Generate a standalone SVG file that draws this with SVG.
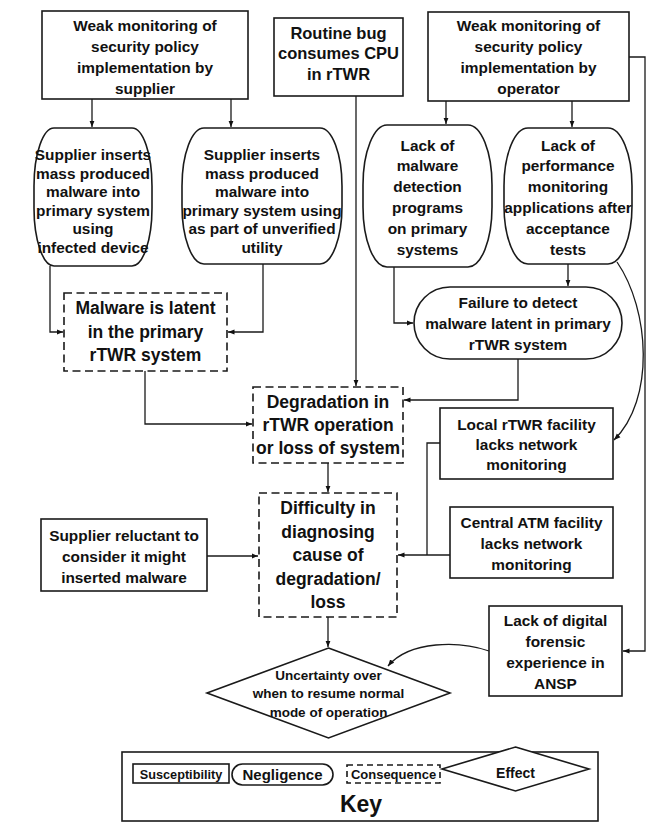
<svg xmlns="http://www.w3.org/2000/svg" width="654" height="823" viewBox="0 0 654 823">
<defs>
<marker id="ah" viewBox="0 0 10 10" refX="10" refY="5" markerWidth="6.5" markerHeight="6.5" orient="auto" markerUnits="userSpaceOnUse"><path d="M0,1 L10,5 L0,9 z" fill="#111"/></marker>
<style>
.n{fill:#fff;stroke:#1a1a1a;stroke-width:1.6}
.d{fill:#fff;stroke:#1a1a1a;stroke-width:1.6;stroke-dasharray:8 4.5}
.c{fill:none;stroke:#1a1a1a;stroke-width:1.3}
text{font-family:"Liberation Sans",Arial,sans-serif;font-weight:bold;fill:#111;text-anchor:middle}
.t{font-size:15.4px}
.tb{font-size:17.5px}
.tr{font-size:16.5px}
.te{font-size:13.5px}
</style>
</defs>
<rect width="654" height="823" fill="#fff"/>

<g id="connectors">
<path class="c" d="M92,99 V127" marker-end="url(#ah)"/>
<path class="c" d="M231,99 V127" marker-end="url(#ah)"/>
<path class="c" d="M446,101 V124" marker-end="url(#ah)"/>
<path class="c" d="M572,101 V127" marker-end="url(#ah)"/>
<path class="c" d="M356,96 V386" marker-end="url(#ah)"/>
<path class="c" d="M50,266 V332 H63" marker-end="url(#ah)"/>
<path class="c" d="M263,264 V332 H228" marker-end="url(#ah)"/>
<path class="c" d="M145,371 V424 H252" marker-end="url(#ah)"/>
<path class="c" d="M394,267 V323 H413" marker-end="url(#ah)"/>
<path class="c" d="M568,264 V286" marker-end="url(#ah)"/>
<path class="c" d="M518,359 V400 H404" marker-end="url(#ah)"/>
<path class="c" d="M617,262 C650,310 655,400 614,440" marker-end="url(#ah)"/>
<path class="c" d="M328,463 V492" marker-end="url(#ah)"/>
<path class="c" d="M440,443 H427 V555"/>
<path class="c" d="M450,555 H398" marker-end="url(#ah)"/>
<path class="c" d="M207,556 H258" marker-end="url(#ah)"/>
<path class="c" d="M328,617 V647" marker-end="url(#ah)"/>
<path class="c" d="M629,57 H645 V651 H623" marker-end="url(#ah)"/>
<path class="c" d="M489,651 C460,641 410,640 388,666" marker-end="url(#ah)"/>
</g>

<g id="weak-supplier">
<rect class="n" x="42" y="11" width="206" height="88"/>
<text class="t" x="145" y="31">Weak monitoring of</text>
<text class="t" x="145" y="52">security policy</text>
<text class="t" x="145" y="73">implementation by</text>
<text class="t" x="145" y="94">supplier</text>
</g>

<g id="routine-bug">
<rect class="n" x="274" y="18" width="129" height="78"/>
<text class="tr" x="338.5" y="39">Routine bug</text>
<text class="tr" x="338.5" y="59">consumes CPU</text>
<text class="tr" x="338.5" y="80">in rTWR</text>
</g>

<g id="weak-operator">
<rect class="n" x="428" y="12" width="201" height="89"/>
<text class="t" x="528.5" y="31">Weak monitoring of</text>
<text class="t" x="528.5" y="52">security policy</text>
<text class="t" x="528.5" y="73">implementation by</text>
<text class="t" x="528.5" y="94">operator</text>
</g>

<g id="supplier-device">
<rect class="n" x="34" y="128" width="118" height="138" rx="20" ry="58"/>
<text class="t" x="93" y="160">Supplier inserts</text>
<text class="t" x="93" y="178.6">mass produced</text>
<text class="t" x="93" y="197.2">malware into</text>
<text class="t" x="93" y="215.8">primary system</text>
<text class="t" x="93" y="234.4">using</text>
<text class="t" x="93" y="253">infected device</text>
</g>

<g id="supplier-utility">
<rect class="n" x="182" y="128" width="160" height="136" rx="22" ry="58"/>
<text class="t" x="262" y="160">Supplier inserts</text>
<text class="t" x="262" y="178.6">mass produced</text>
<text class="t" x="262" y="197.2">malware into</text>
<text class="t" x="262" y="215.8">primary system using</text>
<text class="t" x="262" y="234.4">as part of unverified</text>
<text class="t" x="262" y="253">utility</text>
</g>

<g id="lack-malware-detection">
<rect class="n" x="363" y="125" width="129" height="142" rx="24" ry="60"/>
<text class="t" x="427.5" y="150.5">Lack of</text>
<text class="t" x="427.5" y="171.3">malware</text>
<text class="t" x="427.5" y="192.1">detection</text>
<text class="t" x="427.5" y="212.9">programs</text>
<text class="t" x="427.5" y="233.7">on primary</text>
<text class="t" x="427.5" y="254.5">systems</text>
</g>

<g id="lack-performance">
<rect class="n" x="504" y="128" width="128" height="136" rx="24" ry="58"/>
<text class="t" x="568" y="150.5">Lack of</text>
<text class="t" x="568" y="171.3">performance</text>
<text class="t" x="568" y="192.1">monitoring</text>
<text class="t" x="568" y="212.9">applications after</text>
<text class="t" x="568" y="233.7">acceptance</text>
<text class="t" x="568" y="254.5">tests</text>
</g>

<g id="malware-latent">
<rect class="d" x="64" y="293" width="163" height="78"/>
<text class="tb" x="145.5" y="314">Malware is latent</text>
<text class="tb" x="145.5" y="338">in the primary</text>
<text class="tb" x="145.5" y="361">rTWR system</text>
</g>

<g id="failure-detect">
<rect class="n" x="414" y="287" width="208" height="72" rx="36" ry="36"/>
<text class="t" x="518" y="307.5">Failure to detect</text>
<text class="t" x="518" y="328.5">malware latent in primary</text>
<text class="t" x="518" y="349.5">rTWR system</text>
</g>

<g id="degradation">
<rect class="d" x="253" y="387" width="150" height="76"/>
<text class="tb" x="328" y="408">Degradation in</text>
<text class="tb" x="328" y="431">rTWR operation</text>
<text class="tb" x="328" y="454">or loss of system</text>
</g>

<g id="local-rtwr">
<rect class="n" x="440" y="408" width="173" height="71"/>
<text class="t" x="526.5" y="429.5">Local rTWR facility</text>
<text class="t" x="526.5" y="449.5">lacks network</text>
<text class="t" x="526.5" y="469.5">monitoring</text>
</g>

<g id="difficulty">
<rect class="d" x="259" y="493" width="138" height="124"/>
<text class="tb" x="328" y="514">Difficulty in</text>
<text class="tb" x="328" y="537.5">diagnosing</text>
<text class="tb" x="328" y="561">cause of</text>
<text class="tb" x="328" y="584.5">degradation/</text>
<text class="tb" x="328" y="608">loss</text>
</g>

<g id="supplier-reluctant">
<rect class="n" x="41" y="519" width="166" height="72"/>
<text class="t" x="124" y="540.5">Supplier reluctant to</text>
<text class="t" x="124" y="561.5">consider it might</text>
<text class="t" x="124" y="582.5">inserted malware</text>
</g>

<g id="central-atm">
<rect class="n" x="450" y="507" width="163" height="71"/>
<text class="t" x="531.5" y="527.5">Central ATM facility</text>
<text class="t" x="531.5" y="548.5">lacks network</text>
<text class="t" x="531.5" y="569.5">monitoring</text>
</g>

<g id="lack-forensic">
<rect class="n" x="489" y="606" width="133" height="90"/>
<text class="t" x="555.5" y="625.5">Lack of digital</text>
<text class="t" x="555.5" y="646.5">forensic</text>
<text class="t" x="555.5" y="667.5">experience in</text>
<text class="t" x="555.5" y="688.5">ANSP</text>
</g>

<g id="uncertainty">
<polygon class="n" points="328.5,648 450,693 328.5,738 207,693"/>
<text class="te" x="328.5" y="680">Uncertainty over</text>
<text class="te" x="328.5" y="698">when to resume normal</text>
<text class="te" x="328.5" y="717">mode of operation</text>
</g>

<g id="key">
<rect class="n" x="122" y="752" width="476" height="69"/>
<rect class="n" x="133" y="764" width="96" height="19"/>
<text x="181" y="778.5" style="font-size:12.7px">Susceptibility</text>
<rect class="n" x="232" y="764" width="101" height="21" rx="10.5" ry="10.5"/>
<text x="282.5" y="780" style="font-size:15px">Negligence</text>
<rect class="d" x="347" y="765" width="93" height="18" style="stroke-dasharray:6 4"/>
<text x="393.5" y="779" style="font-size:13px">Consequence</text>
<polygon class="n" points="515.5,747 589,769 515.5,791 442,769"/>
<text x="515.5" y="778" style="font-size:14px">Effect</text>
<text x="361" y="812" style="font-size:23px">Key</text>
</g>
</svg>
